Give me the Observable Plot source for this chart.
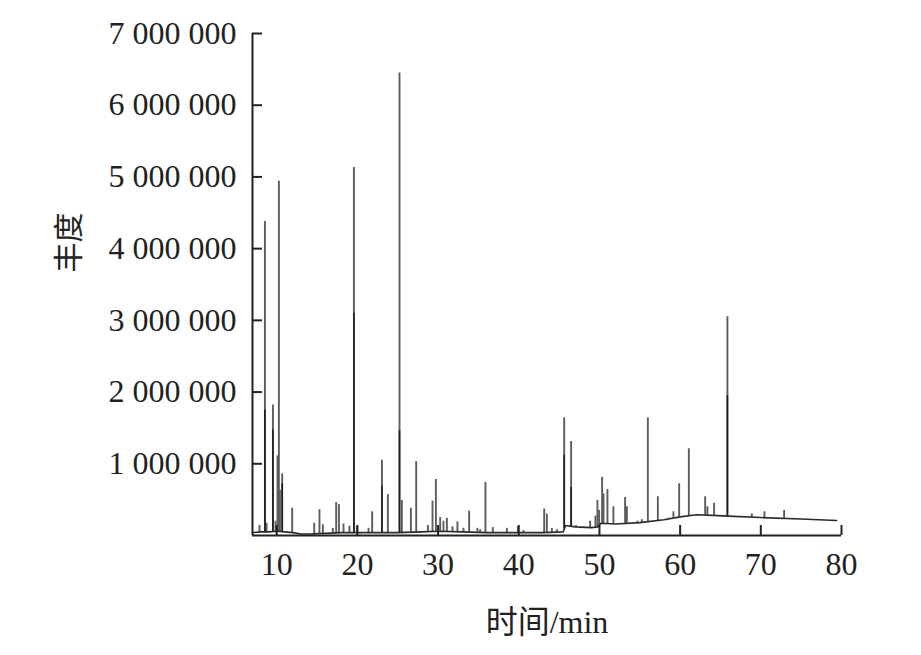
<!DOCTYPE html>
<html><head><meta charset="utf-8">
<script src="https://cdn.jsdelivr.net/npm/d3@7"></script>
<script src="https://cdn.jsdelivr.net/npm/@observablehq/plot@0.6"></script>
<style>body{margin:0;background:#fff}</style>
</head><body><div id="chart"></div>
<script>
// Peak apexes (retention time, min) and abundances
const peakTime = [7.87, 8.54, 8.74, 9.53, 9.85, 10.10, 10.27, 10.40, 10.68, 11.92,
  14.65, 15.30, 15.72, 16.96, 17.37, 17.71, 18.28, 19.02, 19.57, 19.94,
  21.38, 21.83, 23.04, 23.78, 25.22, 25.51, 26.63, 27.29, 28.74, 29.31,
  29.73, 30.26, 30.67, 31.09, 31.78, 32.40, 33.15, 33.85, 34.88, 35.22,
  35.87, 36.79, 38.53, 39.89, 40.58, 43.15, 43.48, 44.10, 44.72, 45.63,
  46.49, 47.11, 48.85, 49.50, 49.75, 49.96, 50.33, 50.50, 50.99, 51.73,
  53.18, 53.40, 54.05, 54.71, 55.25, 56.00, 57.24, 58.02, 58.55, 59.17,
  59.88, 61.08, 63.10, 63.38, 64.21, 65.86, 68.88, 70.45, 72.89];
const peakAbundance = [140000, 4380000, 170000, 1820000, 200000, 1110000, 4940000, 630000, 860000, 380000,
  170000, 360000, 150000, 100000, 460000, 430000, 160000, 130000, 5130000, 120000,
  100000, 330000, 1050000, 570000, 6450000, 490000, 380000, 1030000, 140000, 480000,
  780000, 250000, 200000, 240000, 120000, 190000, 100000, 340000, 100000, 80000,
  740000, 110000, 100000, 120000, 70000, 370000, 300000, 100000, 80000, 1640000,
  1310000, 140000, 200000, 270000, 490000, 350000, 810000, 580000, 640000, 400000,
  530000, 400000, 180000, 200000, 220000, 1640000, 540000, 220000, 240000, 330000,
  720000, 1210000, 540000, 400000, 450000, 3050000, 300000, 330000, 350000];
// darker inner part of the larger peaks
const coreTime = [8.54, 9.53, 10.68, 19.57, 23.04, 25.22, 45.63, 46.49, 65.86];
const coreAbundance = [1750000, 1470000, 720000, 3100000, 690000, 1460000, 1120000, 670000, 1950000];
// baseline of the chromatogram
const baseTime = [7, 8, 9, 10, 11, 12, 13, 14, 16, 18, 20, 22, 25, 28, 30, 33, 36, 40, 43, 45.5, 45.8,
  47, 49, 49.8, 50.2, 52, 55, 58, 60, 62, 64, 66, 70, 75, 79.4];
const baseAbundance = [40000, 50000, 50000, 60000, 50000, 40000, 20000, 20000, 30000, 40000, 40000, 40000,
  40000, 50000, 60000, 50000, 40000, 40000, 40000, 50000, 140000,
  120000, 110000, 120000, 170000, 160000, 180000, 220000, 260000, 290000, 280000, 270000, 250000, 230000, 210000];

const xTicks = [10, 20, 30, 40, 50, 60, 70, 80];
const yTicks = [1000000, 2000000, 3000000, 4000000, 5000000, 6000000, 7000000];
const xLabel = "时间/min";
const yLabel = "丰度";

const baseAt = d3.scaleLinear().domain(baseTime).range(baseAbundance).clamp(true);
const baseline = baseTime.map((t, i) => ({t, v: baseAbundance[i]}));
const peaks = peakTime.map((t, i) => ({t, y1: baseAt(t), y2: peakAbundance[i]}));
const cores = coreTime.map((t, i) => ({t, y1: baseAt(t), y2: coreAbundance[i]}));
const fmt = d => d3.format(",")(d).replace(/,/g, " ");

const chart = Plot.plot({
  width: 921, height: 655,
  marginLeft: 252, marginRight: 80, marginTop: 33, marginBottom: 120,
  x: {domain: [7, 80], label: null},
  y: {domain: [0, 7000000], label: null},
  style: {fontFamily: "'Liberation Serif', 'Noto Sans CJK SC', serif", fontSize: "32px", color: "#222", background: "#fff"},
  marks: [
    Plot.ruleX(peaks, {x: "t", y1: "y1", y2: "y2", stroke: "#5c5c5c", strokeWidth: 1.9}),
    Plot.ruleX(cores, {x: "t", y1: "y1", y2: "y2", stroke: "#1e1e1e", strokeWidth: 1.6}),
    Plot.line(baseline, {x: "t", y: "v", stroke: "#2a2a2a", strokeWidth: 1.6}),
    Plot.ruleX([7], {stroke: "#222", strokeWidth: 2}),
    Plot.ruleY([0], {stroke: "#222", strokeWidth: 2}),
    Plot.axisY(yTicks, {tickSize: 0, tickPadding: 16, tickFormat: fmt, label: null}),
    Plot.axisY(yTicks, {tickSize: 10, dx: 10, tickFormat: () => "", strokeWidth: 2, label: null}),
    Plot.axisX(xTicks, {tickSize: 0, tickPadding: 17, tickFormat: d => String(d), label: null}),
    Plot.axisX(xTicks, {tickSize: 10, dy: -10, tickFormat: () => "", strokeWidth: 2, label: null}),
    Plot.text([yLabel], {frameAnchor: "left", dx: -183, dy: -12, rotate: -90, fontSize: 30, fill: "#222"}),
    Plot.text([xLabel], {frameAnchor: "bottom", dy: 97, fontSize: 32, fill: "#222"})
  ]
});
document.getElementById("chart").appendChild(chart);
</script>
</body></html>
